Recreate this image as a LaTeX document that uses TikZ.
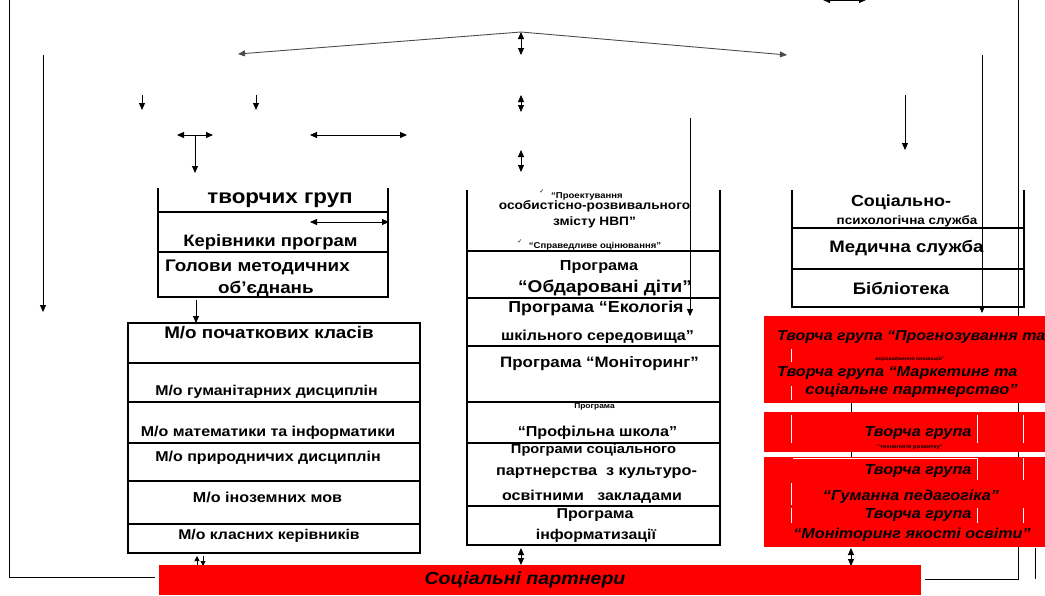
\documentclass[tikz,border=0pt]{standalone}
\usepackage{fontspec}
\setmainfont[FakeStretch=1.12]{Liberation Sans}
\newfontfamily\dejavu{DejaVu Sans}
\usetikzlibrary{arrows.meta}
\begin{document}
\begin{tikzpicture}[x=1pt,y=-1pt,
  bx/.style={line width=2.6pt},
  ln/.style={line width=0.9pt},
  ar/.style={ln,-{Triangle[length=7pt,width=6pt]}},
  dar/.style={ln,{Triangle[length=7pt,width=6pt]}-{Triangle[length=7pt,width=6pt]}},
  txt/.style={font=\bfseries\fontsize{#1}{#1}\selectfont,inner sep=0pt},
  itx/.style={font=\bfseries\itshape\fontsize{#1}{#1}\selectfont,inner sep=0pt},
  redbox/.style={fill=red,draw=none},
  wl/.style={white,line width=1pt}
]
\useasboundingbox (0,0) rectangle (1045,595);

% ---------- coordinates for connectors ----------
\coordinate (lo1) at (9,0);   \coordinate (lo2) at (9,577);  \coordinate (lo3) at (155,577);
\coordinate (l2a) at (43,55); \coordinate (l2b) at (43,312);
\coordinate (topc) at (521,32); \coordinate (topL) at (238,54); \coordinate (topR) at (787,55);
\coordinate (v1a) at (521,32); \coordinate (v1b) at (521,55);
\coordinate (v2a) at (521,95); \coordinate (v2b) at (521,112);
\coordinate (v3a) at (521,150); \coordinate (v3b) at (521,172);
\coordinate (s1a) at (142,95); \coordinate (s1b) at (142,110);
\coordinate (s2a) at (256,95); \coordinate (s2b) at (256,110);
\coordinate (ta) at (177,135); \coordinate (tb) at (213,135);
\coordinate (tc) at (195,135); \coordinate (td) at (195,173);
\coordinate (ha) at (310,135); \coordinate (hb) at (407,135);
\coordinate (m1a) at (690,118); \coordinate (m1b) at (690,316);
\coordinate (r1a) at (905,95); \coordinate (r1b) at (905,150);
\coordinate (r2a) at (982,55); \coordinate (r2b) at (982,313);
\coordinate (ro1) at (1018,0); \coordinate (ro2) at (1018,579); \coordinate (ro3) at (925,579);
\coordinate (rs1) at (1035,548); \coordinate (rs2) at (1035,579);
\coordinate (tra) at (823,0); \coordinate (trb) at (866,0);
\coordinate (x1a) at (851,320); \coordinate (x1b) at (851,547);
\coordinate (b1a) at (851,548); \coordinate (b1b) at (851,566);
\coordinate (b2a) at (521,548); \coordinate (b2b) at (521,565);
\coordinate (b3a) at (203,556); \coordinate (b3b) at (203,566);
\coordinate (b4a) at (197,566); \coordinate (b4b) at (197,556);
\coordinate (ia) at (310,222); \coordinate (ib) at (389,222);
\coordinate (ka) at (196,300); \coordinate (kb) at (196,323);

% ---------- lines behind red boxes ----------
\draw[ln] (ro1) -- (ro2) -- (ro3);
\draw[ln] (rs1) -- (rs2);
\draw[ln] (x1a) -- (x1b);

% ---------- connectors ----------
\draw[ln] (lo1) -- (lo2) -- (lo3);
\draw[ar] (l2a) -- (l2b);
\draw[ar,black!70] (topc) -- (topL);
\draw[ar,black!70] (topc) -- (topR);
\draw[dar] (v1a) -- (v1b);
\draw[dar] (v2a) -- (v2b);
\draw[dar] (v3a) -- (v3b);
\draw[ar] (s1a) -- (s1b);
\draw[ar] (s2a) -- (s2b);
\draw[dar] (ta) -- (tb);
\draw[ar] (tc) -- (td);
\draw[dar] (ha) -- (hb);
\draw[ar] (r1a) -- (r1b);
\draw[ar] (r2a) -- (r2b);
\draw[dar] (tra) -- (trb);
\draw[dar] (b1a) -- (b1b);
\draw[dar] (b2a) -- (b2b);
\draw[ln,-{Triangle[length=5pt,width=5pt]}] (b3a) -- (b3b);
\draw[ln,-{Triangle[length=5pt,width=5pt]}] (b4a) -- (b4b);
\draw[ar] (ka) -- (kb);

% ---------- left block 1 ----------
\draw[bx] (158,188) -- (158,297) -- (388,297) -- (388,188);
\draw[bx] (158,212) -- (388,212);
\draw[bx] (158,252) -- (388,252);
\draw[dar] (ia) -- (ib);
\node[txt=20] (n1) at (280,200) {творчих груп};
\node[txt=16.5] (n2) at (270.5,242) {Керівники програм};
\node[txt=16.8,anchor=west] (n3) at (165,267) {Голови методичних};
\node[txt=16.8,anchor=west] (n4) at (218,289) {об’єднань};

% ---------- left block 2 ----------
\draw[bx] (128,323) rectangle (420,553);
\foreach \yy in {363,402,443,481,524} \draw[bx] (128,\yy) -- (420,\yy);
\node[txt=16.8] (n5) at (269,333) {М/о початкових класів};
\node[txt=14.2] (n6) at (266.5,392) {М/о гуманітарних дисциплін};
\node[txt=14.3] (n7) at (268,433) {М/о математики та інформатики};
\node[txt=14.3] (n8) at (268,458) {М/о природничих дисциплін};
\node[txt=14.4] (n9) at (267.5,497) {М/о іноземних мов};
\node[txt=14.1] (n10) at (269,536) {М/о класних керівників};

% ---------- middle block ----------
\draw[bx] (467,190) -- (467,545) -- (720,545) -- (720,190);
\foreach \yy in {251,298,346,402,443,506} \draw[bx] (467,\yy) -- (720,\yy);
\draw[ar] (m1a) -- (m1b);
\node[txt=8.5] (n11) at (587,196) {“Проектування};
\node[font=\dejavu\fontsize{6}{6}\selectfont,inner sep=0pt] (c1) at (542,192) {✓};
\node[txt=12.2] (n12) at (594.5,206) {особистісно-розвивального};
\node[txt=12.2] (n13) at (594.5,222) {змісту НВП”};
\node[txt=8.5] (n14) at (595,246) {“Справедливе оцінювання”};
\node[font=\dejavu\fontsize{6}{6}\selectfont,inner sep=0pt] (c2) at (520,242) {✓};
\node[txt=14.5] (n15) at (599,267) {Програма};
\node[txt=17] (n16) at (605,288) {“Обдаровані діти”};
\node[txt=15.9] (n17) at (596,308) {Програма “Екологія};
\node[txt=14.3] (n18) at (597.5,337) {шкільного середовища”};
\node[txt=15.1] (n19) at (599.5,364) {Програма “Моніторинг”};
\node[txt=7.5] (n20) at (594.5,407) {Програма};
\node[txt=14.4] (n21) at (597.5,433) {“Профільна школа”};
\node[txt=13.1] (n22) at (593.5,450) {Програми соціального};
\node[txt=14.5] (n23) at (596.5,473) {партнерства\ \ з культуро-};
\node[txt=14.3] (n24) at (592,497) {освітними\ \ \ закладами};
\node[txt=14.3] (n25) at (595,515) {Програма};
\node[txt=14.2] (n26) at (596,536) {інформатизації};

% ---------- right block ----------
\draw[bx] (792,190) -- (792,307) -- (1024,307) -- (1024,190);
\draw[bx] (792,228) -- (1024,228);
\draw[bx] (792,269) -- (1024,269);
\draw[ln] (1018,180) -- (1018,310);
\node[txt=16] (n27) at (901,202) {Соціально-};
\node[txt=12] (n28) at (907,221) {психологічна служба};
\node[txt=16.6] (n29) at (906.5,248) {Медична служба};
\node[txt=16.6] (n30) at (901,288) {Бібліотека};

% ---------- red boxes ----------
\fill[redbox] (764,316) rectangle (1045,403);
\fill[redbox] (764,412) rectangle (1045,452);
\fill[redbox] (764,457) rectangle (1045,547);
\fill[redbox] (159,565) rectangle (921,595);

\foreach \xx in {791} {
  \draw[wl] (\xx,349) -- (\xx,362);
  \draw[wl] (\xx,386) -- (\xx,400);
  \draw[wl] (\xx,415) -- (\xx,443);
  \draw[wl] (\xx,483) -- (\xx,505);
  \draw[wl] (\xx,508) -- (\xx,523);
}
\foreach \xx in {977,1023} {
  \draw[wl] (\xx,415) -- (\xx,443);
  \draw[wl] (\xx,458) -- (\xx,480);
  \draw[wl] (\xx,508) -- (\xx,523);
}
\draw[wl] (793,458) -- (977,458);

\node[itx=14.3,anchor=west] (n31) at (777,337) {Творча група “Прогнозування та};
\node[txt=4.8] (n32) at (910,359) {\itshape впровадження інновацій”};
\node[itx=14.5,anchor=west] (n33) at (777,373) {Творча група “Маркетинг та};
\node[itx=14.7] (n34) at (911.5,391) {соціальне партнерство”};
\node[itx=14.5] (n35) at (918,433) {Творча група};
\node[txt=5.3] (n36) at (910,447) {“технологія розвитку”};
\node[itx=14.5] (n37) at (918,471) {Творча група};
\node[itx=14.5] (n38) at (911,497) {“Гуманна педагогіка”};
\node[itx=14.5] (n39) at (918,515) {Творча група};
\node[itx=14.4] (n40) at (912,535) {“Моніторинг якості освіти”};
\node[itx=17.5] (n41) at (525,580) {Соціальні партнери};
\end{tikzpicture}
\end{document}
